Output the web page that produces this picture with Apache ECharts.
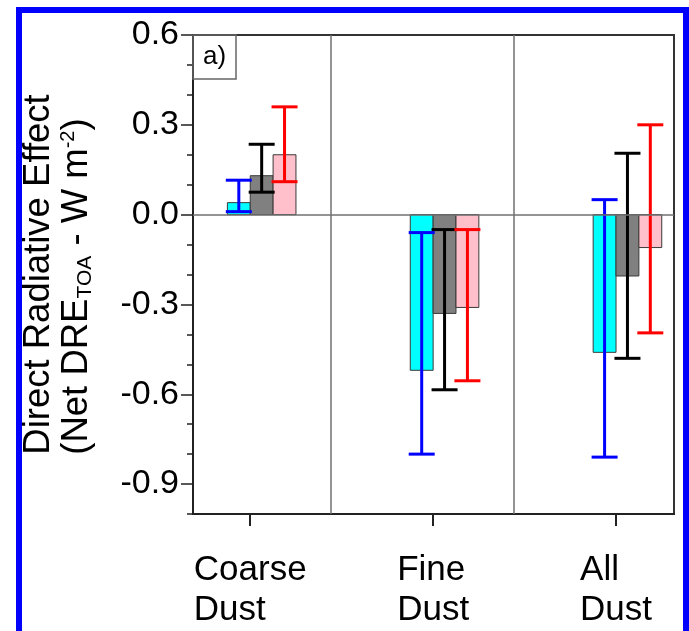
<!DOCTYPE html>
<html>
<head>
<meta charset="utf-8">
<script src="https://cdn.jsdelivr.net/npm/echarts@6/dist/echarts.min.js"></script>
<style>
  html, body { margin: 0; padding: 0; background: #fff; }
  #wrap { position: relative; width: 689px; height: 631px; overflow: hidden; background: #fff; }
  #frame { position: absolute; left: 16px; top: 7px; width: 673px; height: 660px; box-sizing: border-box;
           border: 6px solid #0000ff; border-bottom: none; }
  #chart { position: absolute; left: 0; top: 0; width: 689px; height: 631px; }
</style>
</head>
<body>
<div id="wrap">
  <div id="frame"></div>
  <div id="chart"></div>
</div>
<script>
// ---- data ----
const categories = ['Coarse Dust', 'Fine Dust', 'All Dust'];
const yTickLabels = [-0.9, -0.6, -0.3, 0.0, 0.3, 0.6];

const cyanValues = [0.04, -0.52, -0.46];
const cyanLow    = [0.01, -0.80, -0.81];
const cyanHigh   = [0.115, -0.06, 0.05];

const grayValues = [0.13, -0.33, -0.205];
const grayLow    = [0.075, -0.585, -0.48];
const grayHigh   = [0.235, -0.05, 0.205];

const pinkValues = [0.20, -0.31, -0.11];
const pinkLow    = [0.11, -0.555, -0.395];
const pinkHigh   = [0.36, -0.05, 0.30];

// ---- layout / style constants ----
const FONT = "'Liberation Sans', Arial, Helvetica, sans-serif";
const BAR_W = 0.125;                       // bar width in category units
const BAR_OFFSETS = [-0.125, 0, 0.125];    // left edge offset of each bar from the category tick
const DIVIDERS = [0.443, 1.443];
const CAP_PX = 26;

function barSeries(name, values, color, k, extra) {
  return Object.assign({
    type: 'custom', name: name, clip: false, z: 2,
    data: values.map((v, i) => [i, v]),
    encode: { x: 0, y: 1 },
    renderItem: function (params, api) {
      const i = api.value(0), v = api.value(1);
      const x0 = i + BAR_OFFSETS[k], x1 = x0 + BAR_W;
      const p0 = api.coord([x0, v]);
      const p1 = api.coord([x1, 0]);
      return {
        type: 'rect',
        shape: { x: p0[0], y: Math.min(p0[1], p1[1]), width: p1[0] - p0[0], height: Math.abs(p1[1] - p0[1]) },
        style: { fill: color, stroke: '#3a3a3a', lineWidth: 1 }
      };
    }
  }, extra || {});
}

function errSeries(name, low, high, color, k) {
  return {
    type: 'custom', name: name, clip: false, z: 3,
    data: low.map((l, i) => [i, l, high[i]]),
    encode: { x: 0, y: [1, 2] },
    renderItem: function (params, api) {
      const i = api.value(0);
      const xc = i + BAR_OFFSETS[k] + BAR_W / 2;
      const pl = api.coord([xc, api.value(1)]);
      const ph = api.coord([xc, api.value(2)]);
      const st = { stroke: color, lineWidth: 3 };
      return {
        type: 'group',
        children: [
          { type: 'line', shape: { x1: pl[0], y1: pl[1], x2: ph[0], y2: ph[1] }, style: st },
          { type: 'line', shape: { x1: pl[0] - CAP_PX / 2, y1: pl[1], x2: pl[0] + CAP_PX / 2, y2: pl[1] }, style: st },
          { type: 'line', shape: { x1: ph[0] - CAP_PX / 2, y1: ph[1], x2: ph[0] + CAP_PX / 2, y2: ph[1] }, style: st }
        ]
      };
    }
  };
}

const chart = echarts.init(document.getElementById('chart'), null, { renderer: 'canvas' });

const TSTYLE = { fontSize: 36.5, lineHeight: 38, fontFamily: FONT, color: '#000', align: 'left' };

const option = {
  animation: false,
  backgroundColor: 'transparent',
  title: {
    text: 'a)', left: 193, top: 35,
    borderColor: '#666', borderWidth: 1.5,
    padding: [6, 10, 6, 10],
    textStyle: { fontSize: 26, fontWeight: 'normal', color: '#000', fontFamily: FONT, lineHeight: 32 }
  },
  grid: {
    left: 193, right: 15, top: 35, bottom: 117,
    show: true, borderColor: '#333', borderWidth: 2, backgroundColor: 'transparent'
  },
  xAxis: {
    type: 'value', min: -0.313, max: 2.317,
    axisLine: { show: true, onZero: false, lineStyle: { color: '#222', width: 2 } },
    axisTick: { show: true, customValues: [0, 1, 2], length: 12, lineStyle: { color: '#222', width: 2 } },
    axisLabel: {
      show: true, customValues: [0, 1, 2], margin: 36, align: 'center',
      formatter: function (v) {
        const parts = categories[Math.round(v)].split(' ');
        return '{c|' + parts[0] + '}\n{c|' + parts[1] + '}';
      },
      rich: { c: { fontSize: 35, lineHeight: 40, fontFamily: FONT, color: '#000', align: 'left' } }
    },
    splitLine: { show: false }
  },
  yAxis: [{
    type: 'value', min: -1.0, max: 0.6, position: 'left',
    axisLine: { show: true, onZero: false, lineStyle: { color: '#222', width: 2 } },
    axisTick: { show: true, customValues: yTickLabels, length: 12, lineStyle: { color: '#222', width: 1.5 } },
    axisLabel: {
      show: true, customValues: yTickLabels, margin: 14,
      formatter: function (v) { return Number(v).toFixed(1); },
      fontSize: 34, fontFamily: FONT, color: '#000'
    },
    splitLine: { show: false },
    name: '{t|Direct Radiative Effect}\n{t|(Net DRE}{sub|TOA}{t| - W m}{sup|-2}{t|)}',
    nameLocation: 'middle', nameRotate: 90, nameGap: 97,
    nameTextStyle: {
      fontSize: 36.5, lineHeight: 38, fontFamily: FONT, color: '#000',
      rich: {
        t: TSTYLE,
        sub: { fontSize: 21, lineHeight: 21, verticalAlign: 'bottom', fontFamily: FONT, color: '#000', align: 'left' },
        sup: { fontSize: 20, lineHeight: 20, verticalAlign: 'top', fontFamily: FONT, color: '#000', align: 'left' }
      }
    }
  }, {
    type: 'value', min: -1.0, max: 0.6, interval: 0.1, position: 'left', offset: 0,
    axisLine: { show: false, onZero: false },
    axisTick: { show: true, length: 6, lineStyle: { color: '#222', width: 1.5 } },
    axisLabel: { show: false },
    splitLine: { show: false }
  }],
  series: [
    barSeries('Series A', cyanValues, '#00ffff', 0, {
      markLine: {
        silent: true, symbol: ['none', 'none'], animation: false,
        label: { show: false },
        lineStyle: { type: 'solid', color: '#707070', width: 1.5 },
        emphasis: { disabled: true },
        data: [{ xAxis: DIVIDERS[0] }, { xAxis: DIVIDERS[1] }, { yAxis: 0 }]
      }
    }),
    barSeries('Series B', grayValues, '#808080', 1),
    barSeries('Series C', pinkValues, '#ffc0cb', 2),
    errSeries('Series A range', cyanLow, cyanHigh, '#0000ff', 0),
    errSeries('Series B range', grayLow, grayHigh, '#000000', 1),
    errSeries('Series C range', pinkLow, pinkHigh, '#ff0000', 2)
  ]
};
chart.setOption(option);
</script>
</body>
</html>
